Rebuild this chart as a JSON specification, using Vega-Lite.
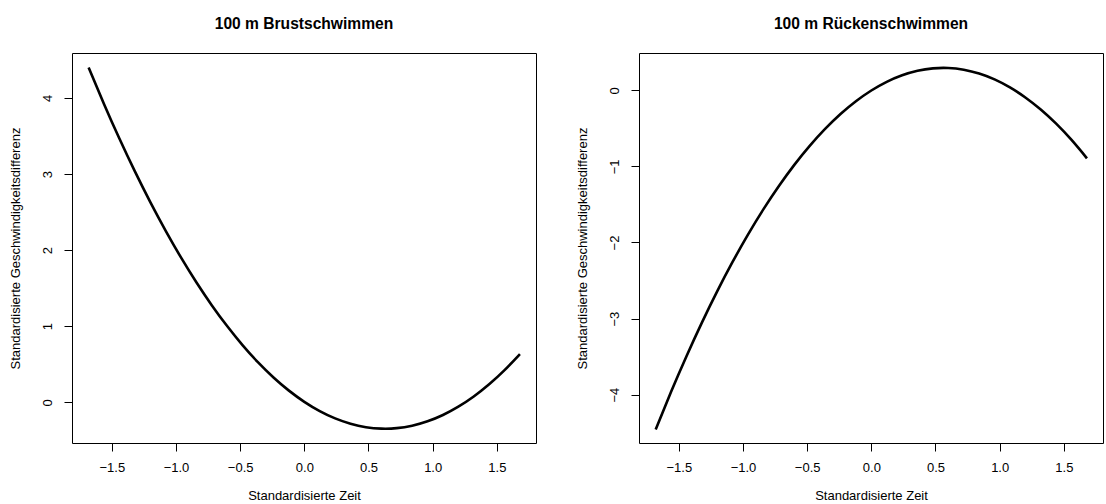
{
  "$schema": "https://vega.github.io/schema/vega-lite/v6.json",
  "background": "white",
  "padding": {"left": 8, "top": 16, "right": 0, "bottom": 0},
  "spacing": 103,
  "bounds": "flush",
  "datasets": {
    "brust": [
      {"x": -1.68, "y": 4.398}, {"x": -1.56, "y": 3.918}, {"x": -1.44, "y": 3.463}, {"x": -1.32, "y": 3.034},
      {"x": -1.20, "y": 2.631}, {"x": -1.08, "y": 2.254}, {"x": -0.96, "y": 1.901}, {"x": -0.84, "y": 1.575},
      {"x": -0.72, "y": 1.274}, {"x": -0.60, "y": 0.999}, {"x": -0.48, "y": 0.749}, {"x": -0.36, "y": 0.525},
      {"x": -0.24, "y": 0.327}, {"x": -0.12, "y": 0.154}, {"x": 0.00, "y": 0.007}, {"x": 0.12, "y": -0.115},
      {"x": 0.24, "y": -0.211}, {"x": 0.36, "y": -0.281}, {"x": 0.48, "y": -0.326}, {"x": 0.60, "y": -0.345},
      {"x": 0.72, "y": -0.339}, {"x": 0.84, "y": -0.307}, {"x": 0.96, "y": -0.249}, {"x": 1.08, "y": -0.166},
      {"x": 1.20, "y": -0.057}, {"x": 1.32, "y": 0.077}, {"x": 1.44, "y": 0.237}, {"x": 1.56, "y": 0.423},
      {"x": 1.68, "y": 0.634}
    ],
    "ruecken": [
      {"x": -1.68, "y": -4.458}, {"x": -1.56, "y": -3.962}, {"x": -1.44, "y": -3.494}, {"x": -1.32, "y": -3.053},
      {"x": -1.20, "y": -2.639}, {"x": -1.08, "y": -2.253}, {"x": -0.96, "y": -1.894}, {"x": -0.84, "y": -1.562},
      {"x": -0.72, "y": -1.258}, {"x": -0.60, "y": -0.980}, {"x": -0.48, "y": -0.730}, {"x": -0.36, "y": -0.508},
      {"x": -0.24, "y": -0.312}, {"x": -0.12, "y": -0.144}, {"x": 0.00, "y": -0.003}, {"x": 0.12, "y": 0.111},
      {"x": 0.24, "y": 0.197}, {"x": 0.36, "y": 0.256}, {"x": 0.48, "y": 0.288}, {"x": 0.60, "y": 0.293},
      {"x": 0.72, "y": 0.270}, {"x": 0.84, "y": 0.220}, {"x": 0.96, "y": 0.143}, {"x": 1.08, "y": 0.038},
      {"x": 1.20, "y": -0.094}, {"x": 1.32, "y": -0.253}, {"x": 1.44, "y": -0.439}, {"x": 1.56, "y": -0.653},
      {"x": 1.68, "y": -0.894}
    ]
  },
  "config": {
    "font": "Liberation Sans",
    "view": {"stroke": "black", "strokeWidth": 1},
    "axis": {
      "grid": false, "domain": false,
      "tickColor": "black", "tickSize": 8, "tickWidth": 1,
      "labelColor": "black", "labelFontSize": 13, "labelFont": "Liberation Sans",
      "titleColor": "black", "titleFontSize": 13, "titleFontWeight": "normal", "titleFont": "Liberation Sans"
    },
    "axisX": {"labelBaseline": "middle", "labelPadding": 16, "titleY": 52.7, "titleX": 232, "titleBaseline": "middle", "titleAlign": "center"},
    "axisY": {"labelAngle": -90, "labelAlign": "center", "labelBaseline": "middle", "labelPadding": 17, "titleX": -57, "titleY": 195, "titleAngle": -90, "titleBaseline": "middle", "titleAlign": "center"},
    "title": {"font": "Liberation Sans", "fontSize": 15.6, "fontWeight": "bold", "color": "black", "anchor": "middle", "baseline": "middle", "offset": 20}
  },
  "hconcat": [
    {
      "title": "100 m Brustschwimmen",
      "width": 464, "height": 390,
      "data": {"name": "brust"},
      "mark": {"type": "line", "color": "black", "strokeWidth": 2.6, "interpolate": "natural", "clip": true},
      "encoding": {
        "x": {"field": "x", "type": "quantitative", "scale": {"domain": [-1.81, 1.805], "nice": false, "zero": false},
              "axis": {"title": "Standardisierte Zeit", "values": [-1.5, -1, -0.5, 0, 0.5, 1, 1.5], "format": ".1f"}},
        "y": {"field": "y", "type": "quantitative", "scale": {"domain": [-0.534, 4.59], "nice": false, "zero": false},
              "axis": {"title": "Standardisierte Geschwindigkeitsdifferenz", "values": [0, 1, 2, 3, 4], "format": "d"}}
      }
    },
    {
      "title": "100 m Rückenschwimmen",
      "width": 464, "height": 390,
      "data": {"name": "ruecken"},
      "mark": {"type": "line", "color": "black", "strokeWidth": 2.6, "interpolate": "natural", "clip": true},
      "encoding": {
        "x": {"field": "x", "type": "quantitative", "scale": {"domain": [-1.81, 1.805], "nice": false, "zero": false},
              "axis": {"title": "Standardisierte Zeit", "values": [-1.5, -1, -0.5, 0, 0.5, 1, 1.5], "format": ".1f"}},
        "y": {"field": "y", "type": "quantitative", "scale": {"domain": [-4.635, 0.49], "nice": false, "zero": false},
              "axis": {"title": "Standardisierte Geschwindigkeitsdifferenz", "values": [-4, -3, -2, -1, 0], "format": "d"}}
      }
    }
  ]
}
